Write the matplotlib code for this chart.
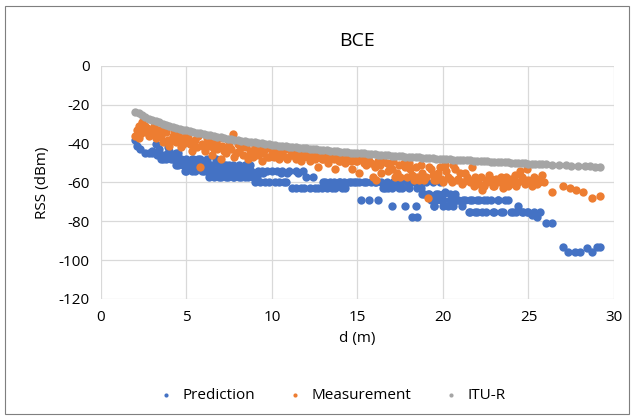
import matplotlib.pyplot as plt
import matplotlib.patches as mpatches

plt.rcParams['font.family'] = ['Open Sans', 'DejaVu Sans']
plt.rcParams['axes.unicode_minus'] = False

# ---- data ----
pred_d = [2.0, 2.1, 2.3, 2.6, 2.8, 3.0, 3.2, 3.4, 3.5, 3.7, 3.8, 4.0, 4.1, 4.3,
          4.4, 4.6, 4.8, 5.0, 5.1, 5.3, 5.5, 5.7, 5.9, 6.0, 6.2, 6.4, 6.6, 6.8,
          7.0, 7.2, 7.4, 7.6, 7.8, 8.0, 8.2, 8.4, 8.6, 8.8, 9.0, 9.2, 9.5, 9.8,
          10.0, 10.2, 10.5, 10.7, 10.9, 11.2, 11.5, 11.7, 12.0, 12.2, 12.4, 12.7,
          13.0, 13.2, 13.4, 13.7, 14.0, 14.3, 14.6, 14.9, 15.2, 15.5, 15.7, 16.0,
          16.2, 16.5, 16.8, 17.0, 17.3, 17.6, 17.8, 18.0, 18.2, 18.4, 18.5, 18.7,
          18.9, 19.1, 19.3, 19.5, 19.7, 19.9, 20.1, 20.3, 20.5, 20.7, 20.9, 21.1,
          21.3, 21.5, 21.7, 21.9, 22.1, 22.3, 22.6, 22.9, 23.2, 23.5, 23.8, 24.1,
          24.4, 24.7, 25.0, 25.2, 25.5, 25.7, 26.0, 26.4, 27.0, 27.3, 27.7, 28.0,
          28.4, 28.7, 29.0, 29.2,
          3.3, 3.9, 4.5, 4.9, 5.4, 5.8, 6.3, 6.7, 7.1, 7.5, 7.9, 8.3, 8.7, 9.1,
          9.4, 9.7, 10.3, 10.6, 11.0, 11.4, 11.8,
          9.3, 9.6, 10.4, 10.8, 13.1, 13.6, 13.9, 14.2, 14.5, 14.8, 15.1, 15.4,
          15.8, 16.1, 16.4, 16.7, 17.1, 17.5, 17.9, 18.3, 18.6, 19.0, 19.4, 19.8,
          11.4, 11.9, 12.5, 12.9, 13.5, 14.1, 16.6, 17.0, 17.4, 18.0, 18.5,
          4.5, 5.2, 5.6, 6.1, 6.5, 6.9, 7.3, 7.7, 8.1, 8.5,
          5.0, 5.5, 6.0, 6.5, 7.1, 7.5, 8.0, 8.5,
          6.9, 7.3, 7.7, 8.1, 8.4, 8.9,
          3.6, 4.2, 4.7, 5.3, 5.8, 6.2,
          3.0, 3.4, 3.9, 4.4,
          19.6, 20.0, 20.4, 20.8, 21.2, 21.6, 22.0, 22.4, 22.8, 23.2, 23.6,
          21.6, 22.0, 22.5, 23.0, 23.4, 24.0, 24.3, 24.6, 24.9, 25.3,
          18.8, 19.2, 19.6, 20.0, 20.4,
          19.5, 20.0, 20.6]
pred_rss = [-38, -41, -43, -45, -45, -44, -40, -43, -48, -46, -48, -44, -48, -46,
            -51, -48, -51, -48, -51, -54, -51, -48, -54, -51, -54, -51, -57, -54,
            -57, -51, -57, -54, -57, -54, -57, -51, -57, -54, -60, -54, -55, -60,
            -54, -60, -55, -60, -55, -63, -55, -63, -57, -63, -57, -63,
            -60, -63, -60, -63, -60, -63, -60, -60, -69, -60, -69, -60,
            -69, -63, -63, -72, -60, -63, -72, -60, -78, -72, -78, -63,
            -66, -66, -69, -72, -66, -69, -65, -72, -69, -66, -69, -72,
            -69, -75, -69, -75, -69, -75, -69, -75, -69, -75, -69, -75,
            -72, -75, -75, -77, -78, -75, -81, -81, -93, -96, -96, -96,
            -94, -96, -93, -93,
            -46, -42, -45, -54, -48, -51, -57, -48, -54, -51, -54, -54, -51, -57,
            -54, -54, -54, -54, -54, -54, -54,
            -60, -60, -60, -60, -60, -60, -60, -60, -60, -60, -60, -60,
            -60, -60, -60, -60, -60, -60, -60, -60, -60, -60, -60, -60,
            -63, -63, -63, -63, -63, -63, -63, -63, -63, -63, -63,
            -51, -51, -51, -51, -51, -51, -51, -51, -51, -51,
            -54, -54, -54, -54, -54, -54, -54, -54,
            -57, -57, -57, -57, -57, -57,
            -48, -48, -48, -48, -48, -48,
            -45, -45, -45, -45,
            -69, -69, -69, -69, -69, -69, -69, -69, -69, -69, -69,
            -75, -75, -75, -75, -75, -75, -75, -75, -75, -75,
            -66, -66, -66, -66, -66,
            -72, -72, -72]

meas_d = [2.0, 2.1, 2.2, 2.3, 2.4, 2.5, 2.7, 2.8, 3.0, 3.1, 3.2, 3.4, 3.5, 3.6,
          3.8, 3.9, 4.0, 4.2, 4.3, 4.4, 4.6, 4.7, 4.9, 5.0, 5.2, 5.3, 5.5, 5.6,
          5.8, 5.9, 6.1, 6.2, 6.4, 6.5, 6.7, 6.8, 7.0, 7.1, 7.3, 7.4, 7.6, 7.8,
          8.0, 8.1, 8.3, 8.5, 8.6, 8.8, 9.0, 9.2, 9.4, 9.6, 9.8, 10.0, 10.2, 10.4,
          10.6, 10.8, 11.0, 11.2, 11.4, 11.6, 11.8, 12.0, 12.2, 12.4, 12.6, 12.7,
          12.9, 13.1, 13.3, 13.5, 13.7, 13.9, 14.1, 14.3, 14.5, 14.7, 14.9, 15.1,
          15.3, 15.5, 15.7, 15.9, 16.1, 16.3, 16.5, 16.8, 17.0, 17.2, 17.4, 17.7,
          17.9, 18.1, 18.3, 18.5, 18.7, 18.9, 19.1, 19.3, 19.5, 19.7, 19.9, 20.1,
          20.3, 20.5, 20.7, 20.9, 21.1, 21.3, 21.5, 21.7, 21.9, 22.1, 22.3, 22.5,
          22.7, 22.9, 23.1, 23.3, 23.5, 23.7, 23.9, 24.1, 24.3, 24.5, 24.7, 24.9,
          25.1, 25.3, 25.5, 25.7, 25.9, 26.4, 27.0, 27.4, 27.8, 28.2, 28.7, 29.2,
          2.2, 2.6, 2.9, 3.3, 3.7, 4.1, 4.5, 4.8, 5.1, 5.4, 5.7, 6.0, 6.3, 6.6,
          6.9, 7.2, 7.5, 7.7, 7.9, 8.2, 8.4, 8.7, 8.9, 9.1, 9.3, 9.5, 9.7, 9.9,
          10.1, 10.3, 10.5, 10.7, 10.9, 11.1, 11.3, 11.5, 11.7, 11.9, 12.1, 12.3,
          12.5, 12.8, 13.0, 13.2, 13.4, 13.6, 13.8, 14.0, 14.2, 14.4, 14.6, 14.8,
          15.0, 15.2, 15.4, 15.6, 15.8, 16.0, 16.2, 16.4, 16.7, 16.9, 17.1, 17.3,
          17.5, 17.8, 18.0, 18.2, 18.4, 18.6, 18.8, 19.0, 19.2, 19.4, 19.6, 19.8,
          20.0, 20.2, 20.4, 20.6, 20.8, 21.0, 21.2, 21.4, 21.6, 21.8, 22.0, 22.2,
          22.4, 22.6, 22.8, 23.0, 23.2, 23.4, 23.6, 23.8, 24.0, 24.2, 24.4, 24.6,
          24.8, 25.0, 25.2, 25.4, 25.6, 25.8]
meas_rss = [-36, -33, -31, -35, -29, -34, -32, -36, -34, -31, -37, -33, -36, -39,
            -34, -38, -41, -36, -33, -39, -37, -42, -38, -35, -40, -44, -38, -42,
            -52, -40, -44, -37, -41, -46, -39, -43, -48, -41, -45, -38, -43, -47,
            -40, -44, -46, -42, -48, -44, -41, -46, -49, -43, -47, -44, -46, -48,
            -45, -47, -43, -46, -48, -45, -47, -46, -49, -47, -45, -52,
            -48, -46, -50, -47, -53, -49, -47, -50, -48, -53, -49, -55,
            -48, -51, -49, -57, -59, -51, -49, -54, -53, -57, -51, -50,
            -57, -53, -59, -57, -51, -59, -68, -53, -59, -55, -58, -51,
            -57, -60, -53, -58, -61, -55, -59, -52, -57, -61, -64, -59,
            -56, -62, -58, -60, -63, -57, -61, -59, -62, -54, -58, -53,
            -60, -57, -61, -58, -60, -65, -62, -63, -64, -65, -68, -67,
            -37, -31, -34, -35, -32, -38, -35, -40, -37, -41, -36, -42, -39, -43,
            -37, -44, -41, -35, -45, -42, -39, -45, -47, -43, -41, -45, -47, -42,
            -47, -44, -46, -43, -48, -46, -44, -47, -49, -45, -47, -45,
            -48, -46, -48, -47, -45, -48, -47, -49, -48, -46, -49, -47,
            -49, -47, -50, -48, -50, -52, -49, -55, -50, -52, -49, -55,
            -57, -52, -50, -56, -52, -59, -55, -57, -52, -56, -59, -52,
            -60, -54, -58, -51, -59, -55, -60, -57, -60, -62, -59, -57,
            -62, -60, -58, -62, -59, -57, -60, -62, -58, -56, -60, -57,
            -61, -59, -62, -58, -60, -56]

itu_d = [2.0, 2.2, 2.4, 2.6, 2.8, 3.0, 3.2, 3.4, 3.6, 3.8, 4.0, 4.2, 4.4, 4.6,
         4.8, 5.0, 5.2, 5.4, 5.6, 5.8, 6.0, 6.2, 6.4, 6.6, 6.8, 7.0, 7.2, 7.4,
         7.6, 7.8, 8.0, 8.4, 8.8, 9.2, 9.6, 10.0, 10.4, 10.8, 11.2, 11.6, 12.0,
         12.4, 12.8, 13.2, 13.6, 14.0, 14.4, 14.8, 15.2, 15.6, 16.0, 16.4, 16.8,
         17.2, 17.6, 18.0, 18.4, 18.8, 19.2, 19.6, 20.0, 20.4, 20.8, 21.2, 21.6,
         22.0, 22.4, 22.8, 23.2, 23.6, 24.0, 24.4, 24.8, 25.2, 25.6, 26.0,
         26.4, 26.8, 27.2, 27.5, 27.9, 28.3, 28.6, 28.9, 29.2,
         8.2, 8.6, 9.0, 9.4, 9.8, 10.2, 10.6, 11.0, 11.4, 11.8, 12.2, 12.6, 13.0,
         13.4, 13.8, 14.2, 14.6, 15.0, 15.4, 15.8, 16.2, 16.6, 17.0, 17.4, 17.8,
         18.2, 18.6, 19.0, 19.4, 19.8, 20.2, 20.6, 21.0, 21.4, 21.8, 22.2, 22.6,
         23.0, 23.4, 23.8, 24.2, 24.6, 25.0, 25.4, 25.8]
itu_rss = [-23.5, -24.5, -25.4, -26.3, -27.1, -27.8, -28.5, -29.1, -29.7, -30.3,
           -30.8, -31.4, -31.9, -32.3, -32.8, -33.2, -33.6, -34.0, -34.4, -34.8,
           -35.1, -35.5, -35.8, -36.2, -36.5, -36.8, -37.1, -37.4, -37.6, -37.9,
           -38.2, -38.7, -39.2, -39.7, -40.1, -40.6, -41.0, -41.4, -41.8, -42.1,
           -42.5, -42.8, -43.2, -43.5, -43.8, -44.1, -44.4, -44.7, -45.0, -45.3,
           -45.5, -45.8, -46.1, -46.3, -46.5, -46.8, -47.0, -47.2, -47.5, -47.7,
           -47.9, -48.1, -48.3, -48.5, -48.7, -48.9, -49.1, -49.3, -49.5, -49.7,
           -49.8, -50.0, -50.2, -50.4, -50.5, -50.7,
           -50.8, -51.0, -51.1, -51.3, -51.4, -51.6, -51.7, -51.8, -51.9,
           -38.5, -39.0, -39.4, -39.9, -40.3, -40.8, -41.2, -41.6, -41.9, -42.3,
           -42.7, -43.0, -43.3, -43.7, -44.0, -44.3, -44.6, -44.9, -45.1, -45.4,
           -45.7, -45.9, -46.2, -46.4, -46.7, -46.9, -47.1, -47.4, -47.6, -47.8,
           -48.0, -48.2, -48.4, -48.6, -48.8, -49.0, -49.2, -49.4, -49.6, -49.7,
           -49.9, -50.1, -50.3, -50.4, -50.6]

x_ticks = [0, 5, 10, 15, 20, 25, 30]
y_ticks = [0, -20, -40, -60, -80, -100, -120]

# ---- figure ----
fig = plt.figure(figsize=(6.31, 4.17), dpi=100, facecolor='white')
ax = fig.add_axes((0.160, 0.283, 0.813, 0.559))

ms = 36
ax.scatter(pred_d, pred_rss, s=ms, color='#4472C4', label='Prediction', zorder=3, lw=0)
ax.scatter(meas_d, meas_rss, s=ms, color='#ED7D31', label='Measurement', zorder=4, lw=0)
ax.scatter(itu_d, itu_rss, s=ms, color='#A5A5A5', label='ITU-R', zorder=5, lw=0)

ax.set_xlim(0, 30)
ax.set_ylim(-120, 0)
ax.set_xticks(x_ticks)
ax.set_yticks(y_ticks)
ax.grid(True, color='#D9D9D9', lw=0.9, zorder=0)
for s in ax.spines.values():
    s.set_visible(False)
ax.tick_params(length=0, labelsize=11, pad=8)

ax.set_xlabel('d (m)', fontsize=11, labelpad=4)
ax.set_ylabel('RSS (dBm)', fontsize=11, labelpad=6)
ax.set_title('BCE', fontsize=14, pad=14)

fig.legend(loc='lower center', bbox_to_anchor=(0.52, 0.0), ncol=3, frameon=False,
           fontsize=11, markerscale=0.5, handletextpad=0.1, columnspacing=1.6)

fig.patches.append(mpatches.Rectangle((0.008, 0.007), 0.989, 0.978, transform=fig.transFigure,
                                      fill=False, ec='#7F7F7F', lw=0.8))

plt.savefig('out.png', dpi=100)
